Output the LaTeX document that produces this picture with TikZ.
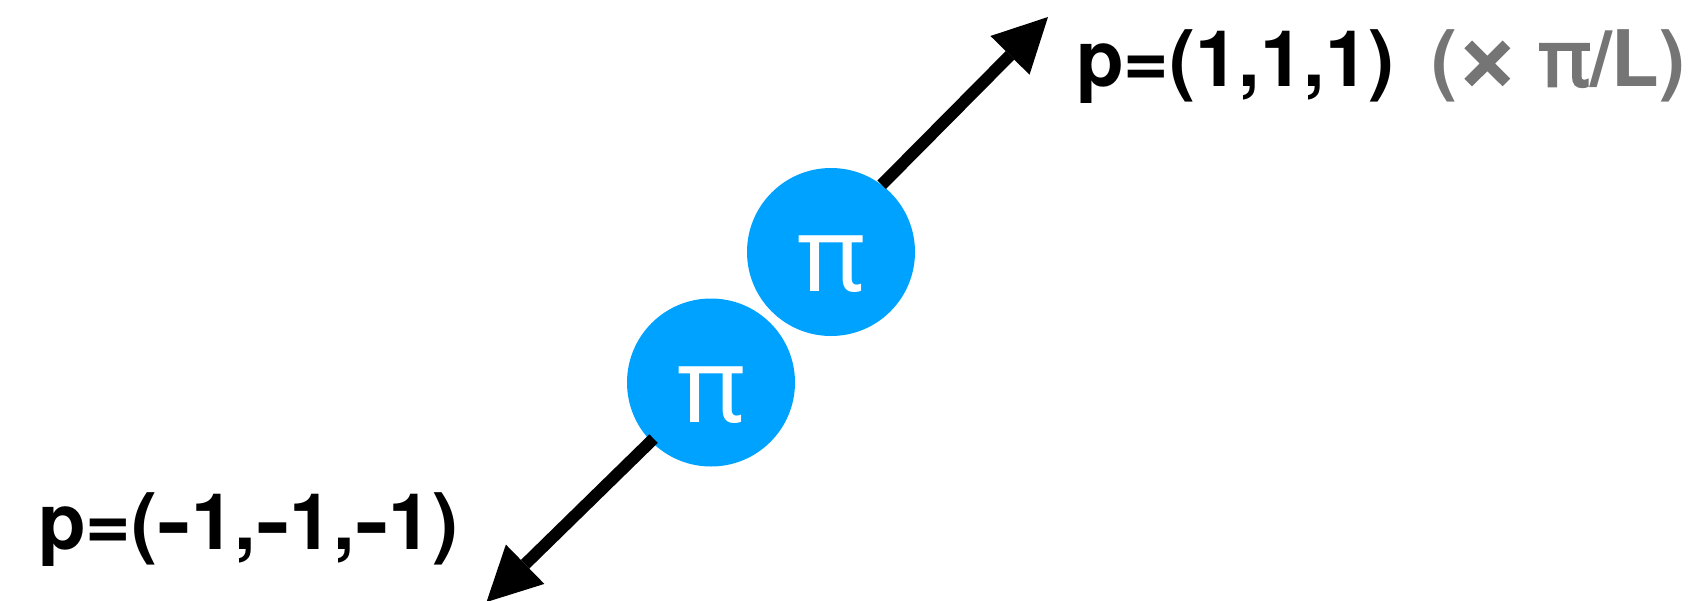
\documentclass[tikz,border=0pt]{standalone}
\usepackage{fontspec}
\usepackage{graphicx}
\setmainfont{TeX Gyre Heros}
\newfontfamily\pifont{Noto Sans}
\newfontfamily\pibold{Noto Sans}[FakeBold=3.5]
\newfontfamily\timesfont{DejaVu Sans}[FakeBold=3.5]
\usetikzlibrary{arrows.meta}
\definecolor{piblue}{RGB}{0,162,255}
\definecolor{unitgray}{RGB}{117,117,117}
\newcommand{\wdash}{\scalebox{1.3}[1]{-}}
\tikzset{
  ball/.style={circle, fill=piblue, minimum size=168pt, inner sep=0pt,
    text=white, font=\pifont\fontsize{104}{104}\selectfont,
    text height=79pt, text depth=0pt},
  momlabel/.style={anchor=base west, inner sep=0pt,
    font=\fontsize{78}{80}\selectfont\bfseries},
  momarrow/.style={line width=12pt,
    -{Triangle[length=54pt,width=55pt,line width=0pt]}}
}
\begin{document}
\begin{tikzpicture}[x=1pt,y=-1pt]
\useasboundingbox (0,0) rectangle (1691,600);
\node[ball] (ca) at (831,252) {π};
\node[ball] (cb) at (711,382.5) {π};
\coordinate (tipa) at (1048,17);
\coordinate (tipb) at (486.5,602);
\draw[momarrow] (ca.53.5) -- (tipa);
\draw[momarrow, shorten <=80.3pt] (cb.center) -- (tipb);
\node[momlabel] (pa) at (1076,86) {p=(1,1,1)};
\node[momlabel, text=unitgray] (unit) at (1431,86) {({\timesfont\fontsize{72}{80}\selectfont ×} {\pibold π}/L)};
\node[momlabel] (pb) at (38,549) {p=(\wdash1,\wdash1,\wdash1)};
\end{tikzpicture}
\end{document}
